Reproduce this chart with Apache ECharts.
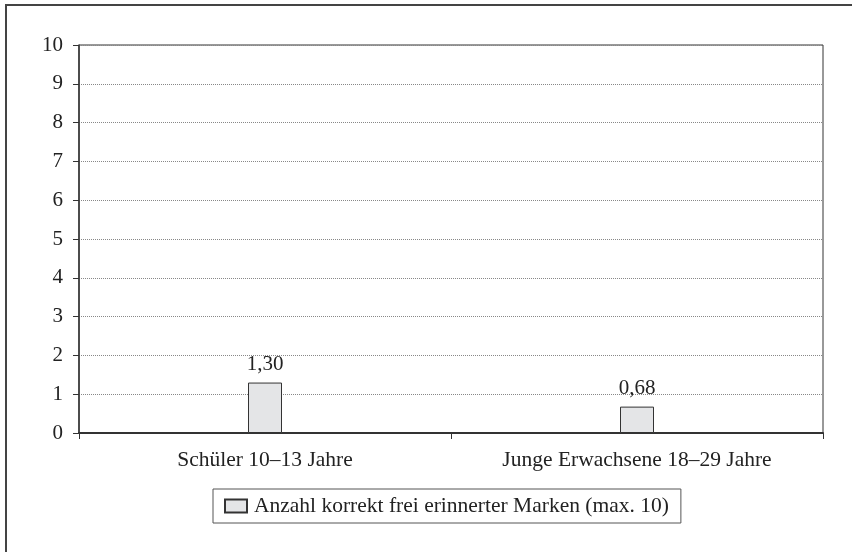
<!DOCTYPE html>
<html>
<head>
<meta charset="utf-8">
<script src="https://cdn.jsdelivr.net/npm/echarts@6/dist/echarts.min.js"></script>
<style>
  html, body { margin: 0; padding: 0; background: #fff; }
  #chart { width: 852px; height: 552px; }
</style>
</head>
<body>
<div id="chart"></div>
<script>
// Daten aus der Abbildung
var categories = ['Schüler 10–13 Jahre', 'Junge Erwachsene 18–29 Jahre'];
var seriesName = 'Anzahl korrekt frei erinnerter Marken (max. 10)';
var values = [1.30, 0.68];

var fontFamily = '"Liberation Serif", "DejaVu Serif", serif';

var chart = echarts.init(document.getElementById('chart'));
chart.setOption({
    backgroundColor: '#fff',
    animation: false,
    textStyle: { fontFamily: fontFamily, color: '#222' },
    graphic: [
        {
            // äußerer Rahmen (rechts und unten abgeschnitten)
            type: 'rect',
            shape: { x: 6, y: 5, width: 900, height: 600 },
            style: { fill: null, stroke: '#444', lineWidth: 2 },
            silent: true
        }
    ],
    grid: {
        left: 79,
        right: 29,
        top: 45,
        bottom: 119,
        show: true,
        borderColor: '#333',
        borderWidth: 1
    },
    legend: {
        data: [{ name: seriesName, icon: 'rect' }],
        top: 489,
        left: 213,
        orient: 'horizontal',
        padding: [6, 12, 6, 11],
        borderColor: '#555',
        borderWidth: 1,
        itemWidth: 22,
        itemHeight: 13,
        itemGap: 4,
        textStyle: { fontFamily: fontFamily, fontSize: 21.5, color: '#222', padding: [0, 0, 0, 2] }
    },
    xAxis: {
        type: 'category',
        data: categories,
        axisLine: { lineStyle: { color: '#333', width: 2 } },
        axisTick: { show: true, inside: false, length: 6, lineStyle: { color: '#333' } },
        axisLabel: { margin: 16, fontFamily: fontFamily, fontSize: 21.5, color: '#222' },
        splitLine: { show: false }
    },
    yAxis: {
        type: 'value',
        min: 0,
        max: 10,
        interval: 1,
        axisLine: { show: true, lineStyle: { color: '#333', width: 1.5 } },
        axisTick: { show: true, length: 6, lineStyle: { color: '#333' } },
        axisLabel: { margin: 16, fontFamily: fontFamily, fontSize: 21, color: '#222' },
        splitLine: { show: true, lineStyle: { color: '#888', type: 'dotted', width: 1 } }
    },
    series: [
        {
            name: seriesName,
            type: 'bar',
            data: values,
            barWidth: 34,
            itemStyle: { color: '#e4e5e7', borderColor: '#333', borderWidth: 1 },
            label: {
                show: true,
                position: 'top',
                distance: 8,
                fontFamily: fontFamily,
                fontSize: 21,
                color: '#222',
                formatter: function (p) {
                    return p.value.toFixed(2).replace('.', ',');
                }
            }
        }
    ]
});
</script>
</body>
</html>
